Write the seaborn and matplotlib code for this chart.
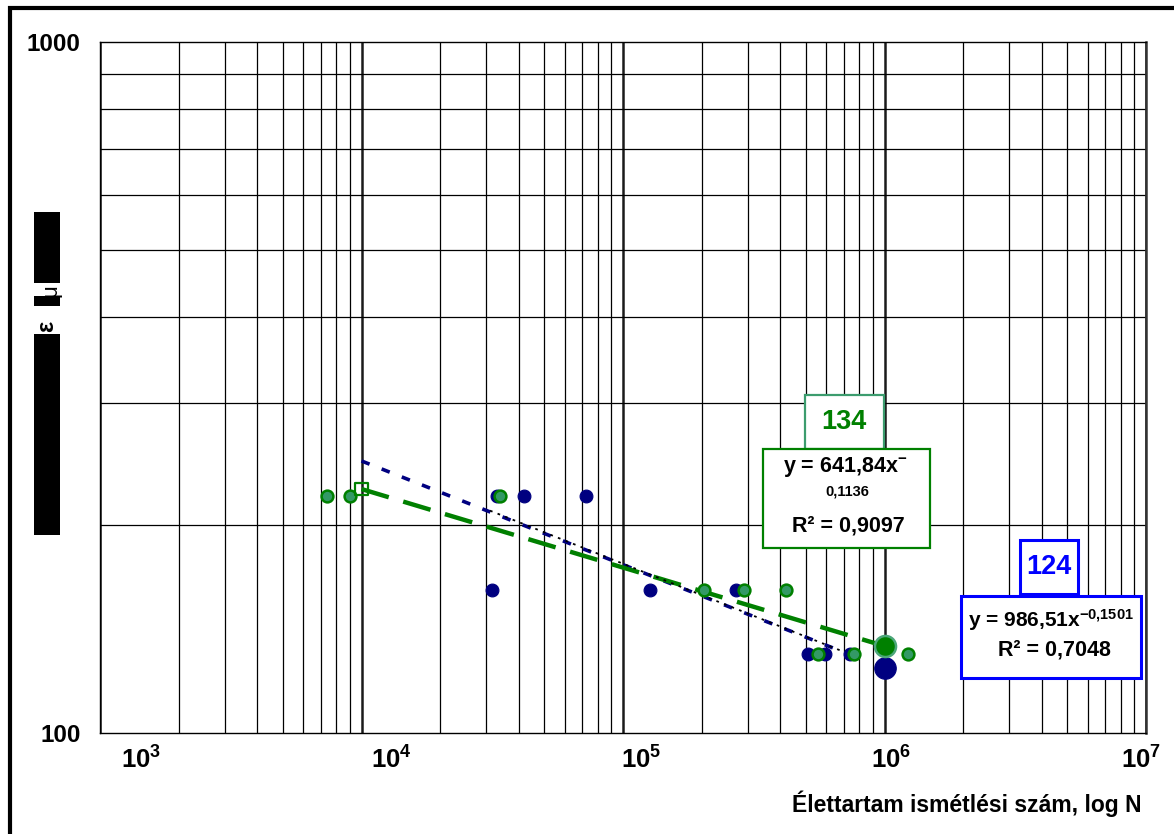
import numpy as np
import matplotlib
matplotlib.use('Agg')
import matplotlib.pyplot as plt
import seaborn as sns
from matplotlib.patches import Rectangle
from matplotlib.ticker import LogLocator, NullFormatter, NullLocator, FixedLocator

blue_N = [31500, 33000, 42000, 72000, 127000, 270000, 510000, 590000, 740000]
blue_eps = [161, 220, 220, 220, 161, 161, 130, 130, 130]
green_N = [7400, 9000, 33800, 204000, 290000, 420000, 557000, 764000, 1230000]
green_eps = [220, 220, 220, 161, 161, 161, 130, 130, 130]

# power trendlines y = a * N^b
green_a, green_b = 641.84, -0.1136
blue_a, blue_b = 986.51, -0.1501
black_a, black_b = 1000.0, -0.151
green_span = [1e4, 1e6]
blue_span = [1e4, 8.2e5]
black_span = [3.1e4, 8.0e5]
N_ref = 1e6

x_ticks = [1e3, 1e4, 1e5, 1e6, 1e7]
x_labels = [r'$\mathbf{10^{3}}$', r'$\mathbf{10^{4}}$', r'$\mathbf{10^{5}}$',
            r'$\mathbf{10^{6}}$', r'$\mathbf{10^{7}}$']
y_ticks = [100, 1000]
y_labels = ['100', '1000']

sns.set_style('white')
plt.rcParams['font.family'] = ['Liberation Sans', 'DejaVu Sans']
plt.rcParams['font.weight'] = 'bold'
plt.rcParams['text.color'] = 'black'
plt.rcParams['xtick.color'] = 'black'
plt.rcParams['ytick.color'] = 'black'
plt.rcParams['mathtext.fontset'] = 'custom'
plt.rcParams['mathtext.rm'] = 'Liberation Sans:bold'
plt.rcParams['mathtext.bf'] = 'Liberation Sans:bold'
plt.rcParams['mathtext.it'] = 'Liberation Sans:bold'

W, H = 1174, 834
fig = plt.figure(figsize=(W / 100, H / 100), dpi=100)


def fx(px):
    return px / W


def fy(py):
    return 1 - py / H


ax = fig.add_axes([fx(100), fy(733), (1146 - 100) / W, (733 - 42) / H])
ax.set_xscale('log')
ax.set_yscale('log')
ax.set_xlim(1e3, 1e7)
ax.set_ylim(100, 1000)

ax.xaxis.set_minor_locator(LogLocator(base=10, subs=np.arange(2, 10)))
ax.yaxis.set_minor_locator(LogLocator(base=10, subs=np.arange(2, 10)))
ax.xaxis.set_minor_formatter(NullFormatter())
ax.yaxis.set_minor_formatter(NullFormatter())
ax.set_xticks(x_ticks)
ax.set_xticklabels([])
ax.set_yticks(y_ticks)
ax.set_yticklabels(y_labels, fontsize=17.5, fontweight='bold')
ax.tick_params(axis='x', which='both', length=0)
ax.tick_params(axis='y', which='major', direction='out', length=5, width=1, pad=9)
ax.tick_params(axis='y', which='minor', direction='in', length=5, width=1)

ax.grid(which='minor', axis='both', color='black', lw=0.9)
ax.grid(which='major', axis='x', color='#1a1a1a', lw=1.8)
ax.set_axisbelow(True)
for sp in ax.spines.values():
    sp.set_color('black')
    sp.set_linewidth(1.0)
ax.spines['right'].set_linewidth(1.8)
ax.spines['right'].set_color('#333333')

# trendlines
gx = np.array(green_span)
bx = np.array(blue_span)
kx = np.array(black_span)
sns.lineplot(x=bx, y=blue_a * bx ** blue_b, ax=ax, color='#000080', lw=2.6,
             linestyle=(0, (2.4, 3.6)), zorder=3)
sns.lineplot(x=gx, y=green_a * gx ** green_b, ax=ax, color='#008000', lw=3.2,
             linestyle=(0, (6.4, 3.4)), zorder=3)
sns.lineplot(x=kx, y=black_a * kx ** black_b, ax=ax, color='black', lw=1.3,
             linestyle=(0, (1.5, 3.0)), zorder=3)

# data points
sns.scatterplot(x=blue_N, y=blue_eps, ax=ax, color='#000080', edgecolor='#000080',
                s=85, linewidth=0.8, zorder=4)
sns.scatterplot(x=green_N, y=green_eps, ax=ax, color='#339966', edgecolor='#008000',
                s=72, linewidth=1.8, zorder=5)

# start of green trendline and values at N = 1e6
ax.scatter([green_span[0]], [green_a * green_span[0] ** green_b], marker='s', s=80,
           facecolor='none', edgecolor='#008000', linewidth=1.6, zorder=6)
g_ref = green_a * N_ref ** green_b
b_ref = blue_a * N_ref ** blue_b
sns.scatterplot(x=[N_ref], y=[b_ref], ax=ax, color='#000080', edgecolor='#000080',
                s=240, linewidth=0.8, zorder=6)
sns.scatterplot(x=[N_ref], y=[g_ref], ax=ax, color='#008000', edgecolor='#4ca67a',
                s=230, linewidth=1.8, zorder=6)

# x tick labels sit on a slightly different scale than the grid
ax2 = ax.twiny()
ax2.set_xscale('log')
ax2.set_xlim(10 ** 2.836, 10 ** 7.02)
ax2.xaxis.set_major_locator(FixedLocator(x_ticks))
ax2.xaxis.set_minor_locator(NullLocator())
ax2.set_xticklabels(x_labels, fontsize=18.5)
ax2.xaxis.set_ticks_position('bottom')
ax2.tick_params(axis='x', length=0, pad=10)
for sp in ax2.spines.values():
    sp.set_visible(False)

fig.text(fx(1142), fy(804), 'Élettartam ismétlési szám, log N', ha='right', va='center',
         fontsize=16.5, fontweight='bold')

# y label (mostly blacked out)
fig.text(fx(47), fy(326), 'ε', rotation=90, ha='center', va='center', fontsize=17,
         fontweight='bold')
fig.text(fx(51), fy(291), 'μ', rotation=90, ha='center', va='center', fontsize=16,
         fontweight='normal')
for y0, y1 in [(212, 283), (296, 306), (334, 535)]:
    fig.add_artist(Rectangle((fx(34), fy(y1)), 26 / W, (y1 - y0) / H, facecolor='black',
                             edgecolor='none', transform=fig.transFigure, zorder=5))


def box(x0, y0, x1, y1, ec, lw):
    fig.add_artist(Rectangle((fx(x0), fy(y1)), (x1 - x0) / W, (y1 - y0) / H,
                             facecolor='white', edgecolor=ec, lw=lw,
                             transform=fig.transFigure, zorder=2))


# green labels
box(805, 395, 884, 449, '#3c9c6e', 1.6)
box(763, 449, 930, 548, '#008000', 1.6)
fig.text(fx(844), fy(422), f'{g_ref:.0f}', ha='center', va='center', fontsize=19.5,
         color='#008000', fontweight='bold')
fig.text(fx(845), fy(467), 'y = 641,84x$^{-}$', ha='center', va='center', fontsize=15.5)
fig.text(fx(847), fy(491), '0,1136', ha='center', va='center', fontsize=10.5)
fig.text(fx(848), fy(526), 'R² = 0,9097', ha='center', va='center', fontsize=15.5)

# blue labels
box(1020, 540, 1078, 594, '#0000ff', 2.2)
box(961, 596, 1141, 678, '#0000ff', 2.2)
fig.text(fx(1049), fy(567), f'{b_ref:.0f}', ha='center', va='center', fontsize=19.5,
         color='#0000ff', fontweight='bold')
fig.text(fx(1051), fy(620), 'y = 986,51x$^{-0{,}1501}$', ha='center', va='center',
         fontsize=15)
fig.text(fx(1054), fy(650), 'R² = 0,7048', ha='center', va='center', fontsize=15.5)

# outer frame
fig.add_artist(Rectangle((fx(10), -0.1), 1.5, fy(8) + 0.1, fill=False, lw=3,
                         edgecolor='black', transform=fig.transFigure, zorder=1))

fig.savefig('out.png', dpi=100)
